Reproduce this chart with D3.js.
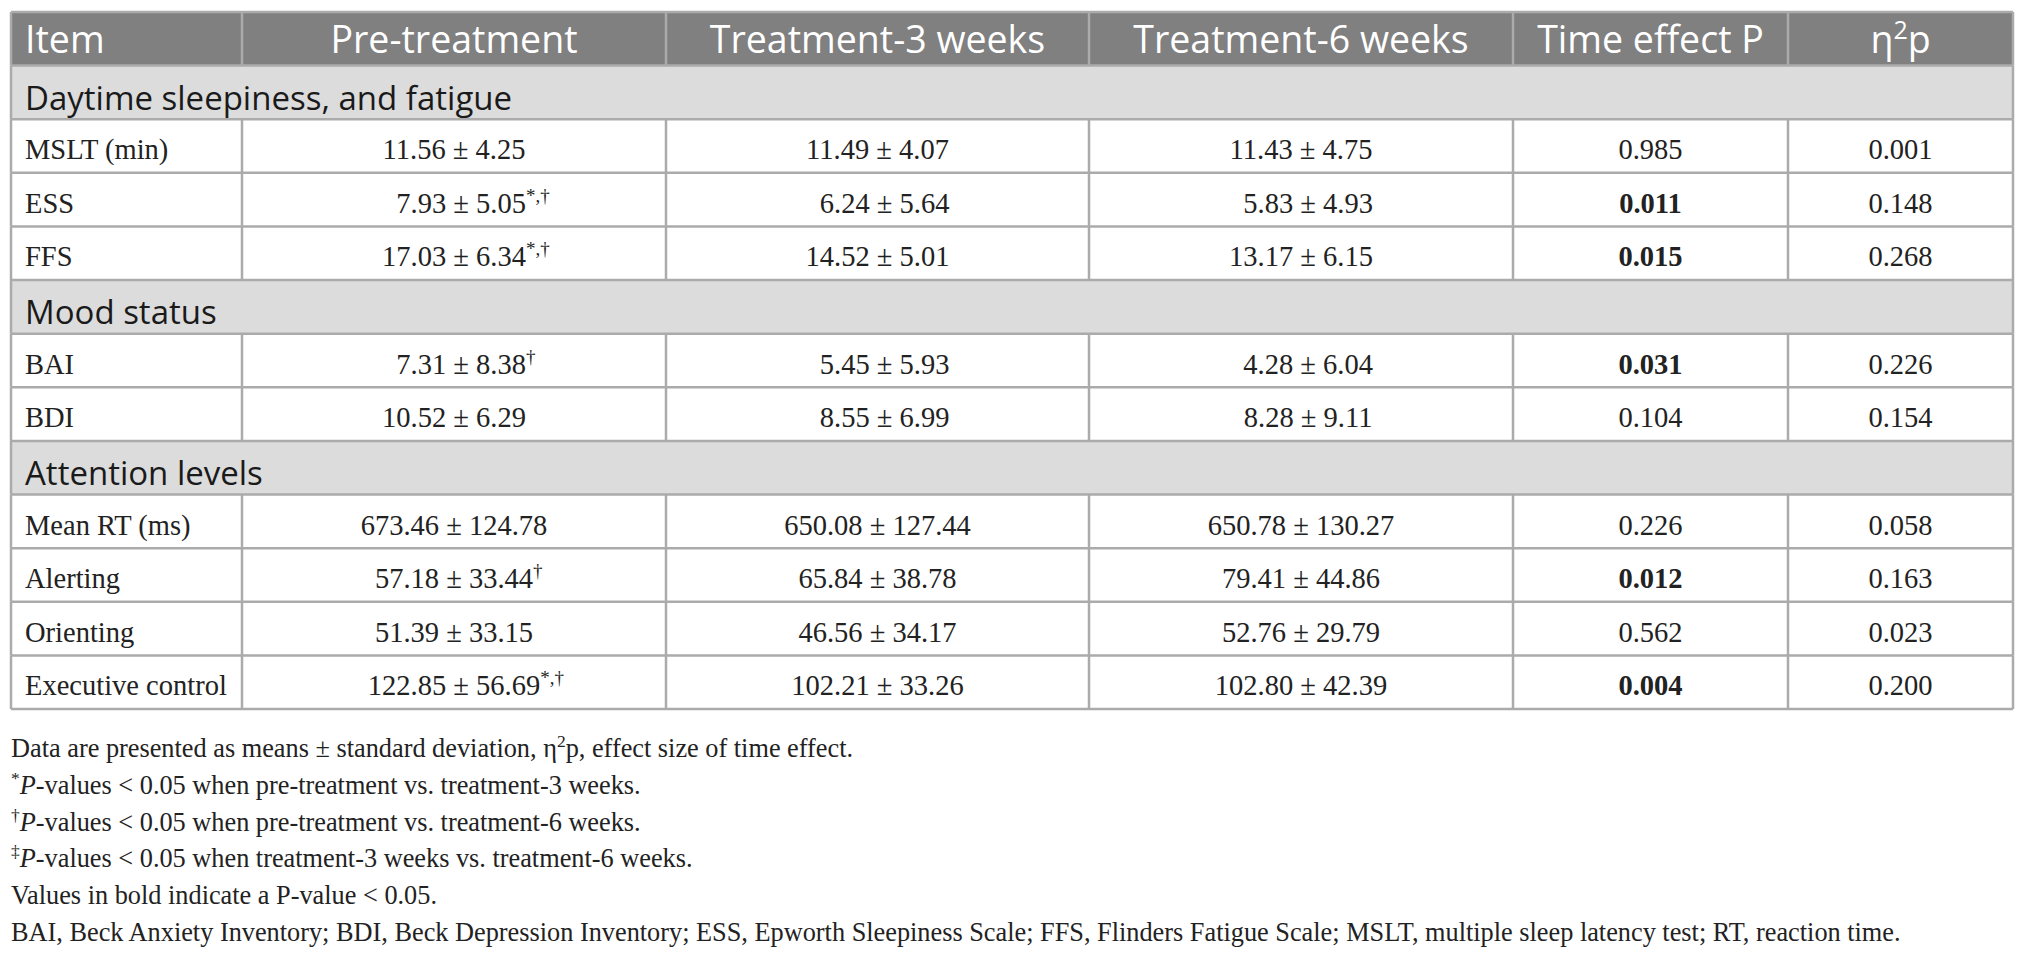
<!DOCTYPE html>
<html>
<head>
<meta charset="utf-8">
<script src="https://cdn.jsdelivr.net/npm/d3@7"></script>
<style>
  html, body { margin: 0; padding: 0; background: #ffffff; }
  svg { display: block; }
</style>
</head>
<body>
<svg id="chart" width="2028" height="961"></svg>
<script>
// ---------- data ----------
const columns = ["Item", "Pre-treatment", "Treatment-3 weeks", "Treatment-6 weeks", "Time effect P", "η2p"];
const sections = ["Daytime sleepiness, and fatigue", "Mood status", "Attention levels"];
const sectionOf = [0, 0, 0, 1, 1, 2, 2, 2, 2];
const items = ["MSLT (min)", "ESS", "FFS", "BAI", "BDI", "Mean RT (ms)", "Alerting", "Orienting", "Executive control"];
const preMean  = [11.56, 7.93, 17.03, 7.31, 10.52, 673.46, 57.18, 51.39, 122.85];
const preSD    = [4.25, 5.05, 6.34, 8.38, 6.29, 124.78, 33.44, 33.15, 56.69];
const preMarks = ["", "*,†", "*,†", "†", "", "", "†", "", "*,†"];
const w3Mean   = [11.49, 6.24, 14.52, 5.45, 8.55, 650.08, 65.84, 46.56, 102.21];
const w3SD     = [4.07, 5.64, 5.01, 5.93, 6.99, 127.44, 38.78, 34.17, 33.26];
const w6Mean   = [11.43, 5.83, 13.17, 4.28, 8.28, 650.78, 79.41, 52.76, 102.80];
const w6SD     = [4.75, 4.93, 6.15, 6.04, 9.11, 130.27, 44.86, 29.79, 42.39];
const timeP    = [0.985, 0.011, 0.015, 0.031, 0.104, 0.226, 0.012, 0.562, 0.004];
const eta2p    = [0.001, 0.148, 0.268, 0.226, 0.154, 0.058, 0.163, 0.023, 0.200];
const footnotes = [
  [{t: "Data are presented as means ± standard deviation, η"}, {t: "2", sup: true}, {t: "p, effect size of time effect."}],
  [{t: "*", sup: true}, {t: "P", it: true}, {t: "-values < 0.05 when pre-treatment vs. treatment-3 weeks."}],
  [{t: "†", sup: true}, {t: "P", it: true}, {t: "-values < 0.05 when pre-treatment vs. treatment-6 weeks."}],
  [{t: "‡", sup: true}, {t: "P", it: true}, {t: "-values < 0.05 when treatment-3 weeks vs. treatment-6 weeks."}],
  [{t: "Values in bold indicate a P-value < 0.05."}],
  [{t: "BAI, Beck Anxiety Inventory; BDI, Beck Depression Inventory; ESS, Epworth Sleepiness Scale; FFS, Flinders Fatigue Scale; MSLT, multiple sleep latency test; RT, reaction time."}]
];

// ---------- layout ----------
const colEdges = [11, 242, 666, 1089, 1513, 1788, 2013];
const tableTop = 12, tableBottom = 709;
const gridColor = "#ababab";
const headBg = "#808080";
const secBg = "#dcdcdc";
const sansFont = "'Open Sans', sans-serif";
const serifFont = "'Liberation Serif', 'Times New Roman', serif";
const bodySize = 28.5;

// build row list: header, then section rows and item rows
const rows = [{type: "head"}];
items.forEach((it, i) => {
  if (i === 0 || sectionOf[i] !== sectionOf[i - 1]) rows.push({type: "sec", label: sections[sectionOf[i]]});
  rows.push({type: "item", i});
});

const y = d3.scaleBand().domain(d3.range(rows.length)).range([tableTop, tableBottom]).padding(0);
const x = d3.scaleOrdinal().domain(d3.range(columns.length)).range(colEdges.slice(0, -1));
const colW = j => colEdges[j + 1] - colEdges[j];
const colMid = j => x(j) + colW(j) / 2;

const svg = d3.select("#chart");
const fsp = "\u2007";
const fmt = (m, s, intDigits) => {
  const ms = m.toFixed(2);
  const pad = Math.max(0, intDigits - String(Math.floor(m)).length);
  return fsp.repeat(pad) + ms + " ± " + s.toFixed(2);
};

// backgrounds
rows.forEach((r, ri) => {
  if (r.type === "head" || r.type === "sec") {
    svg.append("rect")
      .attr("x", colEdges[0]).attr("y", y(ri))
      .attr("width", colEdges[colEdges.length - 1] - colEdges[0])
      .attr("height", y.bandwidth())
      .attr("fill", r.type === "head" ? headBg : secBg);
  }
});

// horizontal grid lines
const gLines = svg.append("g").attr("stroke", gridColor).attr("stroke-width", 2.5);
d3.range(rows.length + 1).forEach(k => {
  const yy = k < rows.length ? y(k) : tableBottom;
  gLines.append("line").attr("x1", colEdges[0]).attr("x2", colEdges[colEdges.length - 1])
    .attr("y1", yy).attr("y2", yy);
});
// vertical grid lines (skip across section rows)
rows.forEach((r, ri) => {
  if (r.type === "sec") return;
  colEdges.forEach((cx) => {
    gLines.append("line").attr("x1", cx).attr("x2", cx)
      .attr("y1", y(ri)).attr("y2", y(ri) + y.bandwidth());
  });
});
// outer edges on section rows
rows.forEach((r, ri) => {
  if (r.type !== "sec") return;
  [colEdges[0], colEdges[colEdges.length - 1]].forEach(cx => {
    gLines.append("line").attr("x1", cx).attr("x2", cx)
      .attr("y1", y(ri)).attr("y2", y(ri) + y.bandwidth());
  });
});

// header text
columns.forEach((c, j) => {
  const t = svg.append("text")
    .attr("x", j === 0 ? x(j) + 14 : colMid(j))
    .attr("y", y(0) + 41)
    .attr("text-anchor", j === 0 ? "start" : "middle")
    .attr("font-family", sansFont).attr("font-size", 37.5).attr("fill", "#ffffff");
  if (c === "η2p") {
    t.append("tspan").text("η");
    t.append("tspan").attr("dy", -14).attr("font-size", 25).text("2");
    t.append("tspan").attr("dy", 14).text("p");
  } else {
    t.text(c);
  }
});

// body rows
rows.forEach((r, ri) => {
  const base = y(ri);
  if (r.type === "sec") {
    svg.append("text").attr("x", colEdges[0] + 14).attr("y", base + 44)
      .attr("font-family", sansFont).attr("font-size", 33).attr("fill", "#1a1a1a")
      .text(r.label);
  } else if (r.type === "item") {
    const i = r.i;
    const by = base + 40;
    svg.append("text").attr("x", x(0) + 14).attr("y", by)
      .attr("font-family", serifFont).attr("font-size", bodySize).attr("fill", "#222")
      .text(items[i]);
    const groups = [[preMean, preSD, preMarks], [w3Mean, w3SD, null], [w6Mean, w6SD, null]];
    groups.forEach((g, gi) => {
      const j = gi + 1;
      const col = g[0];
      const intDigits = d3.max([preMean[i], w3Mean[i], w6Mean[i]], v => String(Math.floor(v)).length);
      const str = fmt(col[i], g[1][i], Math.max(2, intDigits));
      const t = svg.append("text").attr("y", by)
        .attr("font-family", serifFont).attr("font-size", bodySize).attr("fill", "#222");
      const main = t.append("tspan").text(str);
      t.attr("x", colMid(j)).attr("text-anchor", "start");
      const w = main.node().getComputedTextLength();
      t.attr("x", colMid(j) - w / 2);
      if (g[2] && g[2][i]) {
        t.append("tspan").attr("dy", -11).attr("font-size", 19).text(g[2][i]);
      }
    });
    svg.append("text").attr("x", colMid(4)).attr("y", by).attr("text-anchor", "middle")
      .attr("font-family", serifFont).attr("font-size", bodySize).attr("fill", "#222")
      .attr("font-weight", timeP[i] < 0.05 ? "bold" : "normal")
      .text(timeP[i].toFixed(3));
    svg.append("text").attr("x", colMid(5)).attr("y", by).attr("text-anchor", "middle")
      .attr("font-family", serifFont).attr("font-size", bodySize).attr("fill", "#222")
      .text(eta2p[i].toFixed(3));
  }
});

// footnotes
const fnTop = 757, fnStep = 36.8;
footnotes.forEach((parts, k) => {
  const t = svg.append("text").attr("x", 11).attr("y", fnTop + k * fnStep)
    .attr("font-family", serifFont).attr("font-size", 26.3).attr("fill", "#222");
  let raised = false;
  parts.forEach(p => {
    const ts = t.append("tspan").text(p.t);
    if (p.sup) { ts.attr("dy", -10).attr("font-size", 17.5); raised = true; }
    else if (raised) { ts.attr("dy", 10); raised = false; }
    if (p.it) ts.attr("font-style", "italic");
  });
});
</script>
</body>
</html>
